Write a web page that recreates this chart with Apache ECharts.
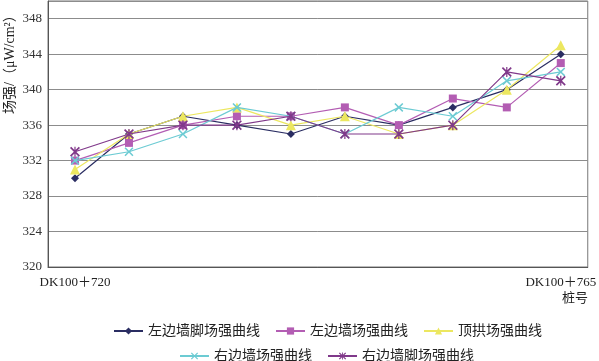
<!DOCTYPE html>
<html><head><meta charset="utf-8">
<script src="https://cdn.jsdelivr.net/npm/echarts@6/dist/echarts.min.js"></script>
<style>html,body{margin:0;padding:0;background:#fff}#c{width:599px;height:361px}</style>
</head><body><div id="c"></div>
<script>
const categories = ['DK100＋720','DK100＋725','DK100＋730','DK100＋735','DK100＋740','DK100＋745','DK100＋750','DK100＋755','DK100＋760','DK100＋765'];
const seriesNames = ['左边墙脚场强曲线','左边墙场强曲线','顶拱场强曲线','右边墙场强曲线','右边墙脚场强曲线'];
const leftFoot  = [330, 335, 337, 336, 335, 337, 336, 338, 340, 344];
const leftWall  = [332, 334, 336, 337, 337, 338, 336, 339, 338, 343];
const crown     = [331, 335, 337, 338, 336, 337, 335, 336, 340, 345];
const rightWall = [332, 333, 335, 338, 337, 335, 338, 337, 341, 342];
const rightFoot = [333, 335, 336, 336, 337, 335, 335, 336, 342, 341];
const yTicks = [320, 324, 328, 332, 336, 340, 344, 348];

const FONT = '"Liberation Serif","Noto Sans CJK SC",serif';
const X_SYM = 'path://M0,1.2L1.2,0L5,3.8L8.8,0L10,1.2L6.2,5L10,8.8L8.8,10L5,6.2L1.2,10L0,8.8L3.8,5Z';
const STAR_SYM = 'path://M0,1.2L1.2,0L5,3.8L8.8,0L10,1.2L6.2,5L10,8.8L8.8,10L5,6.2L1.2,10L0,8.8L3.8,5Z M4.4,0L5.6,0L5.6,10L4.4,10Z';
const colors = ['#2a2d62', '#b35db3', '#ece760', '#6ccbd3', '#80398a'];
const symbols = ['diamond', 'rect', 'triangle', X_SYM, STAR_SYM];
const sizes = [8, 8, 10, 9, 10];
const datas = [leftFoot, leftWall, crown, rightWall, rightFoot];

const chart = echarts.init(document.getElementById('c'), null, {renderer: 'canvas'});
const legendBase = {itemWidth: 29, itemHeight: 9, itemGap: 15,
  textStyle: {fontSize: 14, color: '#222', fontFamily: FONT}};
chart.setOption({
  animation: false,
  textStyle: {fontFamily: FONT},
  grid: {left: 48, right: 8, top: 1, bottom: 94, show: true, borderColor: '#777', borderWidth: 1},
  legend: [
    Object.assign({data: seriesNames.slice(0, 3), top: 319, left: 108}, legendBase),
    Object.assign({data: seriesNames.slice(3), top: 344, left: 174}, legendBase)
  ],
  xAxis: {
    type: 'category', data: categories, boundaryGap: true,
    axisLine: {lineStyle: {color: '#555'}},
    axisTick: {inside: true, length: 6, lineStyle: {color: '#666'}},
    axisLabel: {
      interval: (i) => i === 0 || i === categories.length - 1,
      fontSize: 13, color: '#222', margin: 9, fontFamily: FONT
    }
  },
  yAxis: {
    type: 'value', min: 320, max: 350, interval: 4,
    axisLine: {show: true, lineStyle: {color: '#555'}},
    axisTick: {show: false},
    axisLabel: {fontSize: 13, color: '#333', margin: 6, fontFamily: FONT,
      formatter: (v) => yTicks.indexOf(v) >= 0 ? String(v) : ''},
    splitLine: {lineStyle: {color: '#8c8c8c', width: 1}}
  },
  graphic: [
    {type: 'text', x: 10, y: 114, rotation: Math.PI / 2,
     style: {text: '场强/（μW/cm²）', fontSize: 14, fill: '#222', fontFamily: FONT,
             verticalAlign: 'middle', align: 'left'}},
    {type: 'text', x: 562, y: 292,
     style: {text: '桩号', fontSize: 13, fill: '#222', fontFamily: FONT}}
  ],
  series: seriesNames.map((n, i) => ({
    name: n, type: 'line', data: datas[i],
    symbol: symbols[i], symbolSize: sizes[i], showAllSymbol: true,
    lineStyle: {color: colors[i], width: 1.2},
    itemStyle: {color: colors[i]},
    z: 2 + i
  }))
});
</script></body></html>
